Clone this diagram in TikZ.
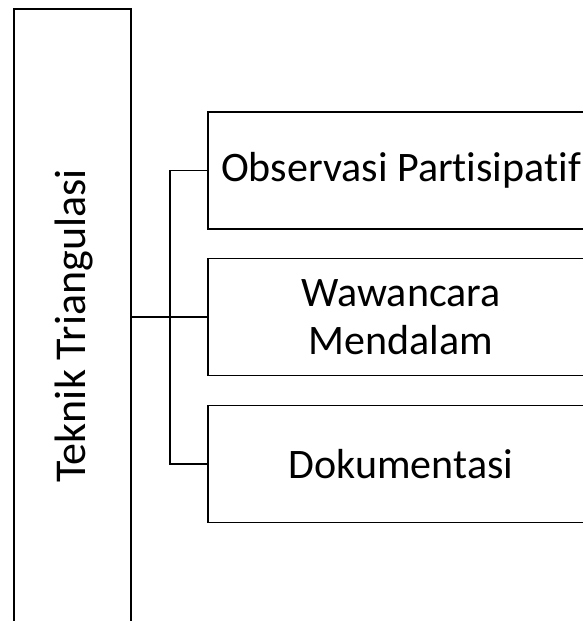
\documentclass[tikz,border=0pt]{standalone}
\usepackage{fontspec}
\setmainfont{Carlito}[Ligatures=CommonOff]
\begin{document}
\begin{tikzpicture}[x=1pt,y=-1pt,
  box/.style={draw=black,line width=1.8pt,rectangle,inner sep=0pt},
  rbox/.style={box,minimum width=386pt,minimum height=117pt,align=center,
    font=\fontsize{42}{48}\selectfont},
  conn/.style={draw=black,line width=1.8pt}]
\useasboundingbox (0,0) rectangle (583,621);
\clip (0,0) rectangle (583,621);
\node[box,minimum width=117pt,minimum height=634pt] (L) at (72.5,326) {};
\node[rotate=90,font=\fontsize{44}{50}\selectfont] (Lt) at (74,326) {Teknik Triangulasi};
\node[rbox] (B1) at (401,170.4) {Observasi Partisipatif};
\node[rbox] (B2) at (401,317) {Wawancara\\Mendalam};
\node[rbox] (B3) at (401,464) {Dokumentasi};
\coordinate (j) at (170,317);
\draw[conn] (L.east |- B2.west) -- (B2.west);
\draw[conn] (B1.west) -| (j) |- (B3.west);
\end{tikzpicture}
\end{document}
